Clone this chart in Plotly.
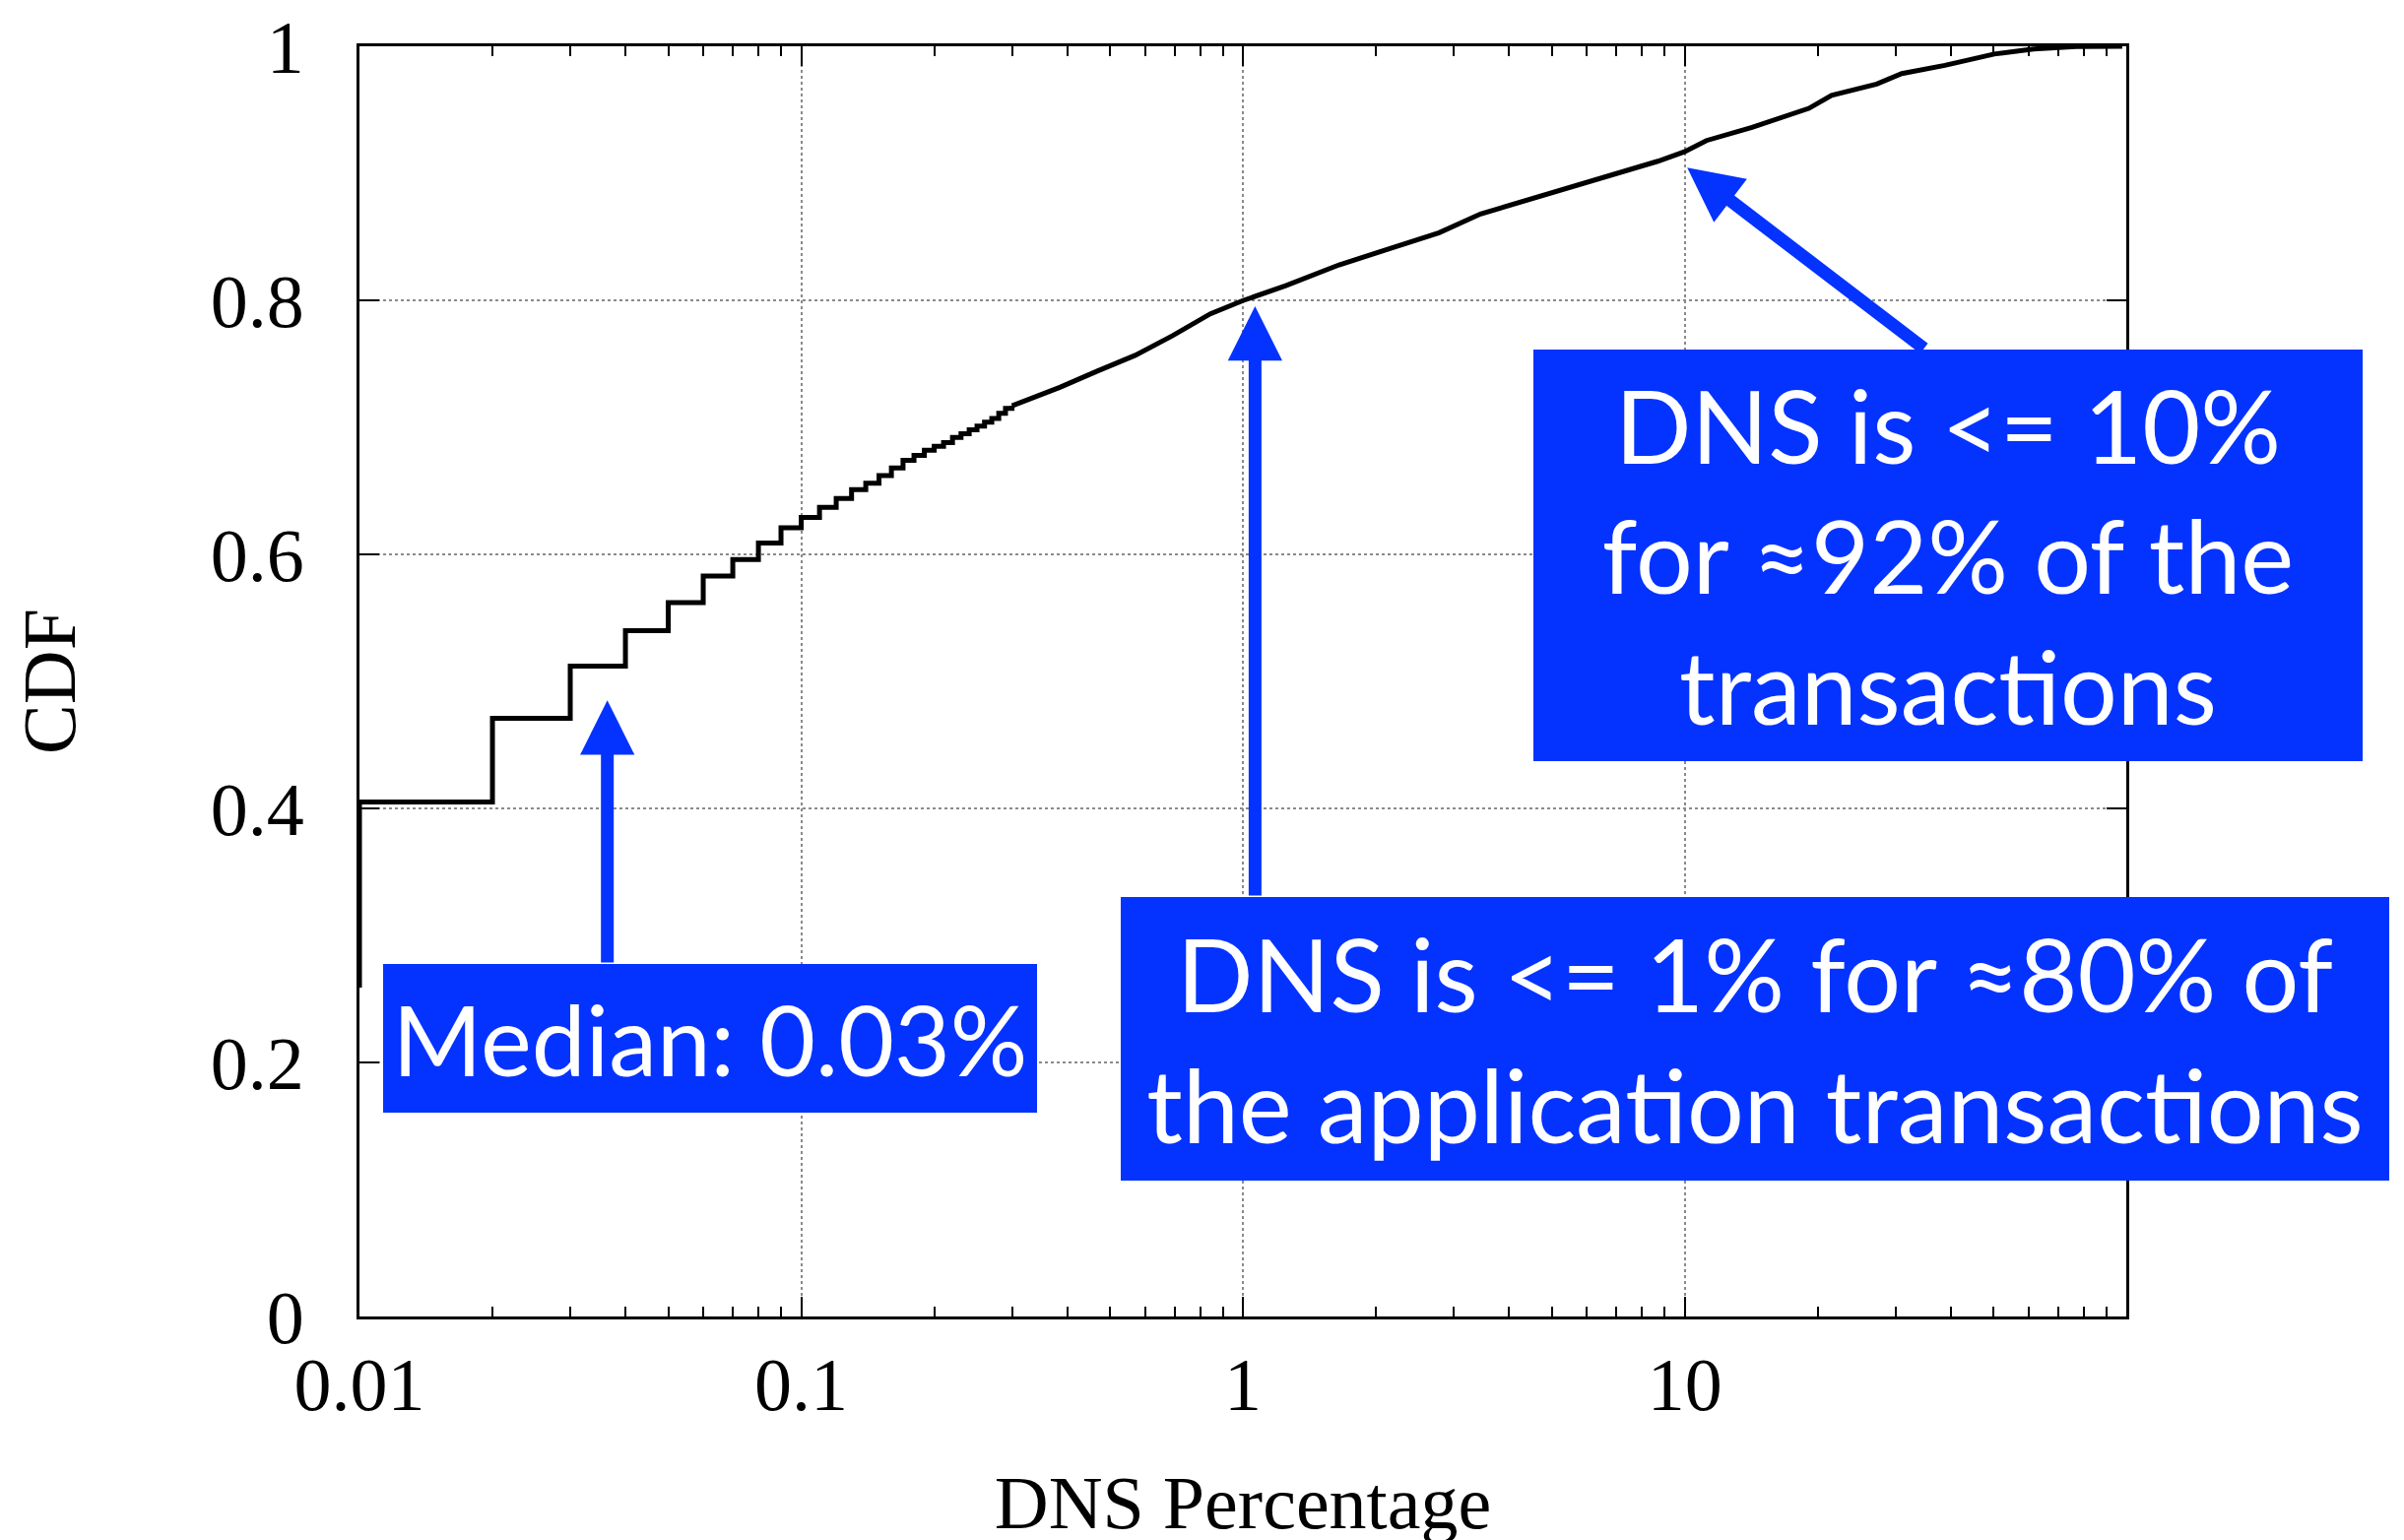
import math
import plotly.graph_objects as go

# ---------------- data ----------------
# step part of the CDF (const plot at 0.01% resolution)
step_x = [0.01, 0.01, 0.02, 0.03, 0.04, 0.05, 0.06, 0.07, 0.08, 0.09, 0.10,
          0.11, 0.12, 0.13, 0.14, 0.15, 0.16, 0.17, 0.18, 0.19, 0.20,
          0.21, 0.22, 0.23, 0.24, 0.25, 0.26, 0.27, 0.28, 0.29, 0.30]
step_cdf = [0.259, 0.405, 0.471, 0.512, 0.540, 0.562, 0.583, 0.596, 0.609, 0.621, 0.629,
            0.637, 0.644, 0.651, 0.656, 0.662, 0.668, 0.674, 0.678, 0.682, 0.685,
            0.688, 0.692, 0.695, 0.698, 0.701, 0.704, 0.707, 0.711, 0.715, 0.717]

# dense part of the CDF
smooth_x = [0.30, 0.385, 0.468, 0.570, 0.693, 0.844, 1.0, 1.25, 1.65, 2.12, 2.78,
            3.45, 4.37, 5.54, 7.14, 8.69, 9.98, 11.2, 14.2, 19.1, 21.5, 27.2,
            31.0, 38.8, 50.2, 61.7, 76.9, 97.8]
smooth_cdf = [0.717, 0.7315, 0.7443, 0.7567, 0.7722, 0.7894, 0.7998, 0.8116, 0.8279, 0.8404, 0.8532,
              0.868, 0.8784, 0.8888, 0.9006, 0.9095, 0.9169, 0.9258, 0.9362, 0.9511, 0.9614, 0.9703,
              0.9785, 0.985, 0.9939, 0.9979, 0.9998, 1.0]

x_tickvals = [0.01, 0.1, 1, 10]
x_ticktext = ["0.01", "0.1", "1", "10"]
y_tickvals = [0, 0.2, 0.4, 0.6, 0.8, 1]
y_ticktext = ["0", "0.2", "0.4", "0.6", "0.8", "1"]

notes = [
    "Median: 0.03%",
    "DNS is <= 1% for ≈80% of<br>the application transactions",
    "DNS is <= 10%<br>for ≈92% of the<br>transactions",
]
# arrows: (tip x, tip cdf, tail x, tail cdf)
arrows = [
    (0.0364, 0.485, 0.0364, 0.2775),
    (1.065, 0.7953, 1.065, 0.3302),
    (10.13, 0.9045, 35.07, 0.7612),
]

# ---------------- layout geometry ----------------
W, H = 2441, 1564
PL, PR, PT, PB = 357, 2151, 39, 1329
BLUE = "#0433ff"


def px2x(px):
    return (px - PL) / (PR - PL)


def py2y(py):
    return (PB - py) / (PB - PT)


# box rectangles in pixels: left, top, right, bottom
boxes = [
    (381, 971, 1045, 1122),
    (1130, 903, 2418, 1191),
    (1549, 347, 2391, 765),
]
box_font_sizes = [98, 102, 102]

fig = go.Figure()
fig.add_trace(go.Scatter(x=step_x, y=step_cdf, mode="lines",
                         line=dict(color="black", width=5, shape="hv"),
                         showlegend=False, hoverinfo="skip"))
fig.add_trace(go.Scatter(x=smooth_x, y=smooth_cdf, mode="lines",
                         line=dict(color="black", width=5),
                         showlegend=False, hoverinfo="skip"))

annotations = []
for tx, ty, ax, ay in arrows:
    annotations.append(dict(
        x=math.log10(tx), y=ty, xref="x", yref="y",
        ax=math.log10(ax), ay=ay, axref="x", ayref="y",
        text="", showarrow=True, arrowhead=2, arrowsize=0.85,
        arrowwidth=13, arrowcolor=BLUE, standoff=0))

for (l, t, r, b), txt, fs in zip(boxes, notes, box_font_sizes):
    annotations.append(dict(
        x=px2x(l), y=py2y(t), xref="paper", yref="paper",
        xanchor="left", yanchor="top",
        width=r - l, height=b - t, borderpad=0, borderwidth=0,
        bgcolor=BLUE, text=txt, showarrow=False,
        align="center", valign="middle",
        font=dict(family="Lato", size=fs, color="white")))

axis_font = dict(family="Liberation Serif", size=76, color="black")

fig.update_layout(
    width=W, height=H,
    margin=dict(l=PL, r=W - PR, t=PT, b=H - PB, pad=0, autoexpand=False),
    paper_bgcolor="white", plot_bgcolor="white",
    annotations=annotations,
    xaxis=dict(
        type="log", range=[-2, 1.9995], automargin=False,
        tickmode="array", tickvals=x_tickvals, ticktext=x_ticktext,
        ticks="inside", ticklen=20, tickwidth=2, tickcolor="black",
        minor=dict(ticks="inside", ticklen=10, tickwidth=1.5, tickcolor="black",
                   dtick="D1", showgrid=False),
        showline=True, linecolor="black", linewidth=3, mirror="allticks",
        showgrid=True, gridcolor="#8a8a8a", gridwidth=1.5, griddash="dot",
        zeroline=False, tickfont=axis_font, ticklabelstandoff=1,
        title=dict(text="DNS Percentage", font=axis_font, standoff=52),
    ),
    yaxis=dict(
        range=[0, 1], automargin=False,
        tickmode="array", tickvals=y_tickvals, ticktext=y_ticktext,
        ticks="inside", ticklen=20, tickwidth=2, tickcolor="black",
        showline=True, linecolor="black", linewidth=3, mirror="allticks",
        showgrid=True, gridcolor="#8a8a8a", gridwidth=1.5, griddash="dot",
        zeroline=False, tickfont=axis_font, ticklabelstandoff=38,
        ticklabeloverflow="allow",
        title=dict(text="CDF", font=axis_font, standoff=115),
    ),
)

fig.write_html("out.html")
